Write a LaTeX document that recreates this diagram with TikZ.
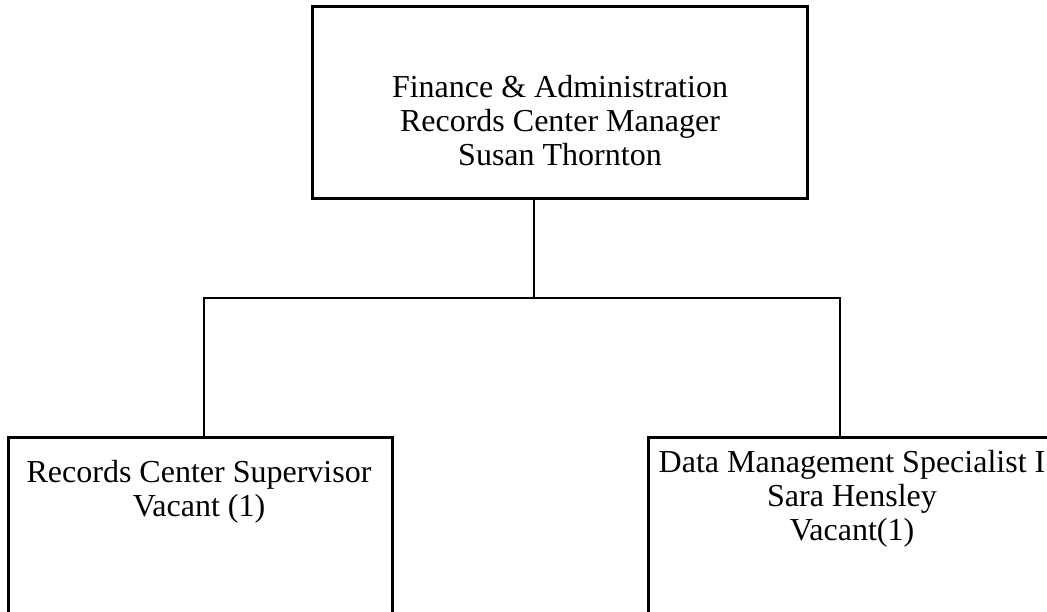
\documentclass[tikz,border=0pt]{standalone}
\usepackage{fontspec}
\setmainfont{Liberation Serif}
\begin{document}
\begin{tikzpicture}[x=1pt,y=-1pt,
  box/.style={draw, line width=3pt, rectangle, inner sep=0pt, outer sep=0pt},
  lbl/.style={align=center, inner sep=0pt, font=\fontsize{32}{34}\selectfont},
  conn/.style={line width=2.2pt}]
\useasboundingbox (0,0) rectangle (1047,612);
\clip (0,0) rectangle (1047,612);
% boxes
\node[box, minimum width=495pt, minimum height=192pt] (top) at (559.5,103) {};
\node[box, minimum width=384pt, minimum height=300pt, anchor=north west] (left) at (8,437) {};
\node[box, minimum width=408pt, minimum height=300pt, anchor=north west] (right) at (648,437) {};
% texts
\node[lbl] (toptext) at (560,121) {Finance \& Administration\\Records Center Manager\\Susan Thornton};
\node[lbl] (lefttext) at (199,492) {Records Center Supervisor\\Vacant (1)};
\node[lbl] (righttext) at (852,499) {Data Management Specialist I\\Sara Hensley\\Vacant(1)};
% connectors
\coordinate (jm) at (534,298);
\coordinate (jl) at (204,298);
\coordinate (jr) at (840,298);
\draw[conn] (top.south -| jm) -- (jm);
\draw[conn, line cap=rect] (jl) -- (jr);
\draw[conn] (jl) -- (jl |- left.north);
\draw[conn] (jr) -- (jr |- right.north);
\end{tikzpicture}
\end{document}
